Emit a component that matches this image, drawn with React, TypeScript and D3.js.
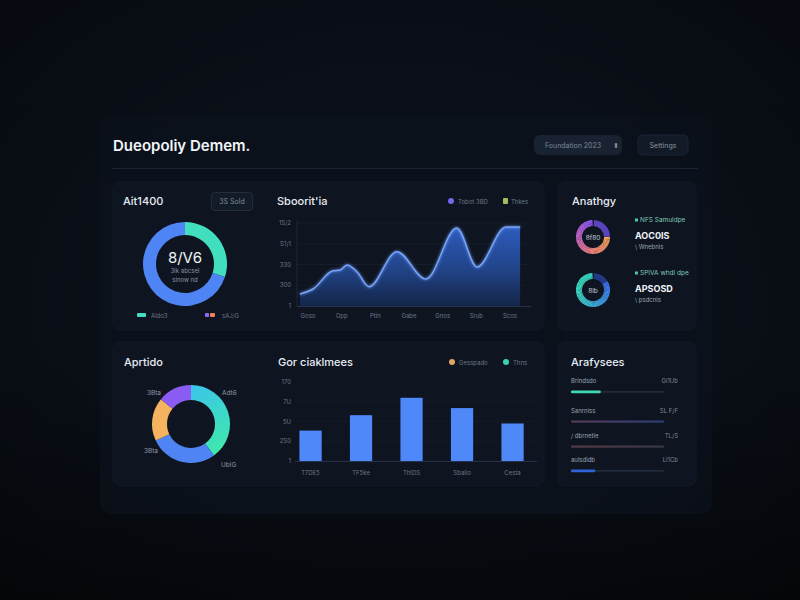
import React from "react";
import * as d3 from "d3";

const W = 800;
const H = 600;
const FONT = "Inter, 'Noto Sans', 'DejaVu Sans', sans-serif";

// ---------- data ----------
const titleText = "Dueopoliy Demem.";
const dropdownText = "Foundation 2023";
const buttonText = "Settings";

// card 1 donut
const donutATitle = "Ait1400";
const donutABadge = "3S Sold";
const donutACategories = ["Aldo3", "sAJ/G"];
const donutAValues = [30, 70];
const donutAColors = ["#41dfbf", "#4f84f4"];
const donutACenter = "8/V6";
const donutASub = ["3ik abcsel", "slnow nd"];

// line / area chart
const lineTitle = "Sboorit'ia";
const lineLegend = ["Tobot 3BD", "Thkes"];
const lineTickValues = [0, 1, 2, 3, 4];
const lineTickLabels = ["1", "300", "330", "S1/1", "1S/2"];
const lineXLabels = ["Goso", "Opp", "Ptin", "Gabe", "Gnos", "Srub", "Scos"];
const lineX = [-0.24, 0.15, 0.74, 0.95, 1.16, 1.46, 1.81, 2.64, 3.5, 4.42, 5.02, 5.88, 6.3];
const lineY = [0.58, 0.82, 1.7, 1.73, 1.98, 1.64, 0.93, 2.62, 1.3, 3.76, 1.88, 3.81, 3.81];

// mini donuts
const miniTitle = "Anathgy";
const miniValues = [75, 84];
const miniCenters = ["8f80", "8lb"];
const miniTags = ["NFS Samuldpe", "SPIVA whdl dpe"];
const miniMain = ["AOC0IS", "APSOSD"];
const miniSubs = ["\\ Wnebnis", "\\ psdcnis"];

// donut B
const donutBTitle = "Aprtido";
const donutBLabels = ["Adt6", "UbiG", "3Bta", "3Bta"];
const donutBValues = [40, 28, 18, 14];
const donutBColors = ["url(#tealGrad)", "#4f84f4", "#f6b35f", "#8b5cf4"];

// bars
const barTitle = "Gor ciaklmees";
const barLegend = ["Gesspado", "Thns"];
const barCategories = ["T7DE5", "TF5ke", "ThIDS", "Sbalio", "Cesta"];
const barValues = [77, 116, 160, 134, 95];
const barTickValues = [0, 50, 100, 150, 200];
const barTickLabels = ["1", "2S0", "5U", "7U", "170"];

// progress list
const progTitle = "Arafysees";
const progLabels = ["Brindsdo", "Sanrniss", "/ dbrnetie", "aulsdidb"];
const progRight = ["Gl1Ub", "SL F/F", "TL/S", "Li1Cb"];
const progValues = [32, 100, 100, 26];
const progColors = ["#3fd8b4", "url(#prog2)", "url(#prog3)", "#2f63d6"];

// ---------- helpers ----------
const TXT = "#e7ecf3";
const DIM = "#6b7586";

function GradientRing({ cx, cy, r0, r1, a0, a1, colors, n = 60 }: any) {
  const arc = d3.arc<any>().innerRadius(r0).outerRadius(r1);
  const interp = d3.interpolateRgbBasis(colors);
  const step = (a1 - a0) / n;
  return (
    <g transform={`translate(${cx},${cy})`}>
      {d3.range(n).map((i) => (
        <path
          key={i}
          d={arc({ startAngle: a0 + i * step, endAngle: a0 + (i + 1) * step + 0.01 }) || ""}
          fill={interp(i / (n - 1))}
        />
      ))}
    </g>
  );
}

export default function App() {
  // donut A
  const pieA = d3.pie<number>().sort(null)(donutAValues);
  const arcA = d3.arc<any>().innerRadius(29).outerRadius(42);

  // line chart
  const lx = d3.scaleLinear().domain([0, 6]).range([308, 510]);
  const ly = d3.scaleLinear().domain([0, 4]).range([306, 223]);
  const pts = lineX.map((x, i) => [x, lineY[i]] as [number, number]);
  const lineGen = d3
    .line<[number, number]>()
    .x((d) => lx(d[0]))
    .y((d) => ly(d[1]))
    .curve(d3.curveMonotoneX);
  const areaGen = d3
    .area<[number, number]>()
    .x((d) => lx(d[0]))
    .y0(ly(0))
    .y1((d) => ly(d[1]))
    .curve(d3.curveMonotoneX);

  // donut B
  const pieB = d3.pie<number>().sort(null)(donutBValues);
  const arcB = d3.arc<any>().innerRadius(24).outerRadius(39);
  const donutBLabelPos = [
    { x: 222, y: 395, a: "start" },
    { x: 221, y: 467, a: "start" },
    { x: 158, y: 453, a: "end" },
    { x: 161, y: 395, a: "end" },
  ];

  // bars
  const bx = d3.scaleBand<string>().domain(barCategories).range([285.3, 537.8]).paddingInner(0.56).paddingOuter(0.28);
  const by = d3.scaleLinear().domain([0, 200]).range([461, 382]);

  // progress
  const px = d3.scaleLinear().domain([0, 100]).range([571, 664]);
  const progY = [383, 413, 438, 462];

  // mini donuts
  const miniY = [237, 290];
  const miniColors = [
    ["#f4a45c", "#ef8070", "#c862c6", "#8a58ee"],
    ["#3e6fe6", "#3f9ee4", "#3fdcb8", "#36d6c2"],
  ];
  const miniTrack = ["#5a43bd", "#223a86"];

  return (
    <svg
      width={W}
      height={H}
      viewBox={`0 0 ${W} ${H}`}
      style={{ position: "fixed", left: 0, top: 0, display: "block" }}
      fontFamily={FONT}
    >
      <defs>
        <linearGradient id="bg" x1="0" y1="0" x2="0" y2="1">
          <stop offset="0" stopColor="#0a0f18" />
          <stop offset="0.6" stopColor="#0a0f17" />
          <stop offset="1" stopColor="#06090e" />
        </linearGradient>
        <radialGradient id="vign" cx="0.5" cy="0.5" r="0.75">
          <stop offset="0.5" stopColor="#000" stopOpacity="0" />
          <stop offset="1" stopColor="#000" stopOpacity="0.4" />
        </radialGradient>
        <linearGradient id="areaGrad" x1="0" y1="0" x2="0" y2="1">
          <stop offset="0" stopColor="#2f60c6" stopOpacity="0.95" />
          <stop offset="0.55" stopColor="#234892" stopOpacity="0.9" />
          <stop offset="1" stopColor="#152850" stopOpacity="0.85" />
        </linearGradient>
        <linearGradient id="tealGrad" x1="0" y1="0" x2="0.3" y2="1">
          <stop offset="0" stopColor="#3bc4ec" />
          <stop offset="1" stopColor="#3fe6b0" />
        </linearGradient>
        <linearGradient id="prog2" x1="0" y1="0" x2="1" y2="0">
          <stop offset="0" stopColor="#5a3a5a" />
          <stop offset="1" stopColor="#2c3d78" />
        </linearGradient>
        <linearGradient id="prog3" x1="0" y1="0" x2="1" y2="0">
          <stop offset="0" stopColor="#5a3a40" />
          <stop offset="1" stopColor="#3a3448" />
        </linearGradient>
        <filter id="glow" x="-20%" y="-20%" width="140%" height="140%">
          <feGaussianBlur stdDeviation="1.6" result="b" />
          <feMerge>
            <feMergeNode in="b" />
            <feMergeNode in="SourceGraphic" />
          </feMerge>
        </filter>
      </defs>

      <rect width={W} height={H} fill="url(#bg)" />
      <rect x={100} y={116} width={612} height={398} rx={10} fill="#0b111b" />
      <rect width={W} height={H} fill="url(#vign)" />

      {/* header */}
      <text x={113} y={151} fill="#f2f5f9" fontSize={15} fontWeight={600}>
        {titleText}
      </text>
      <rect x={534} y={135} width={88} height={20} rx={6} fill="#182231" />
      <text x={545} y={148} fill="#7c8797" fontSize={7}>
        {dropdownText}
      </text>
      <text x={613} y={148} fill="#8a95a5" fontSize={7}>
        ⬍
      </text>
      <rect x={638} y={135} width={50} height={20} rx={5} fill="#111a26" stroke="#1a2434" />
      <text x={663} y={148} fill="#8a95a5" fontSize={7} textAnchor="middle">
        {buttonText}
      </text>
      <line x1={112} x2={698} y1={168.5} y2={168.5} stroke="#1b2433" />

      {/* cards */}
      <rect x={113} y={182} width={431} height={148} rx={8} fill="#0e1521" stroke="#131b28" />
      <rect x={558} y={182} width={138} height={148} rx={8} fill="#0e1521" stroke="#131b28" />
      <rect x={113} y={342} width={431} height={144} rx={8} fill="#0e1521" stroke="#131b28" />
      <rect x={558} y={342} width={138} height={144} rx={8} fill="#0e1521" stroke="#131b28" />

      {/* ---- donut A ---- */}
      <text x={123} y={205} fill={TXT} fontSize={11} fontWeight={500}>
        {donutATitle}
      </text>
      <rect x={211.5} y={192.5} width={41} height={18} rx={3} fill="#121b28" stroke="#232d3c" />
      <text x={232} y={204} fill="#7f8a9a" fontSize={7} textAnchor="middle">
        {donutABadge}
      </text>
      <g transform="translate(185,264)">
        {pieA.map((s, i) => (
          <path key={i} d={arcA(s) || ""} fill={donutAColors[i]} />
        ))}
        <text y={-1} fill="#f2f5f9" fontSize={15} textAnchor="middle">
          {donutACenter}
        </text>
        {donutASub.map((t, i) => (
          <text key={i} y={9 + i * 9} fill="#8993a3" fontSize={6} textAnchor="middle">
            {t}
          </text>
        ))}
      </g>
      <rect x={137} y={313} width={9} height={4} rx={1} fill={donutAColors[0]} />
      <text x={151} y={318} fill={DIM} fontSize={6}>
        {donutACategories[0]}
      </text>
      <rect x={205} y={313} width={4} height={4} rx={1} fill="#8b6cf0" />
      <rect x={210} y={313} width={5} height={4} rx={1} fill="#f07f5c" />
      <text x={222} y={318} fill={DIM} fontSize={6}>
        {donutACategories[1]}
      </text>

      {/* ---- line chart ---- */}
      <text x={277} y={205} fill={TXT} fontSize={11} fontWeight={500}>
        {lineTitle}
      </text>
      <circle cx={451} cy={201} r={3} fill="#7766ee" />
      <text x={458} y={203.5} fill={DIM} fontSize={6}>
        {lineLegend[0]}
      </text>
      <rect x={503} y={198} width={5} height={6} rx={1} fill="#9fbf5e" />
      <text x={511} y={203.5} fill={DIM} fontSize={6}>
        {lineLegend[1]}
      </text>
      {lineTickValues.map((v, i) => (
        <g key={i}>
          {v > 0 && (
            <line x1={297} x2={527} y1={ly(v)} y2={ly(v)} stroke="#162030" strokeWidth={0.8} />
          )}
          <text x={291} y={ly(v) + 2} fill={DIM} fontSize={6} textAnchor="end">
            {lineTickLabels[i]}
          </text>
        </g>
      ))}
      <line x1={297} x2={297} y1={221} y2={306} stroke="#1d2738" />
      <path d={areaGen(pts) || ""} fill="url(#areaGrad)" />
      <path d={lineGen(pts) || ""} fill="none" stroke="#76a3fb" strokeWidth={1.5} filter="url(#glow)" />
      <line x1={297} x2={531} y1={306.5} y2={306.5} stroke="#27324a" />
      {lineXLabels.map((t, i) => (
        <text key={i} x={lx(i)} y={318} fill={DIM} fontSize={6} textAnchor="middle">
          {t}
        </text>
      ))}

      {/* ---- mini donuts ---- */}
      <text x={572} y={205} fill={TXT} fontSize={11} fontWeight={500}>
        {miniTitle}
      </text>
      {miniValues.map((v, i) => {
        const a0 = (1 - v / 100) * 2 * Math.PI;
        const trackArc = d3.arc<any>().innerRadius(11).outerRadius(17)({
          startAngle: 0.06,
          endAngle: a0 - 0.02,
        });
        return (
          <g key={i}>
            <path d={trackArc || ""} transform={`translate(593,${miniY[i]})`} fill={miniTrack[i]} />
            <GradientRing cx={593} cy={miniY[i]} r0={11} r1={17} a0={a0} a1={2 * Math.PI - 0.04} colors={miniColors[i]} />
            <text x={593} y={miniY[i] + 2.5} fill="#c7cfdb" fontSize={6.5} textAnchor="middle">
              {miniCenters[i]}
            </text>
            <rect x={635} y={miniY[i] - 18.5} width={3} height={3} fill="#46c9a8" />
            <text x={640} y={miniY[i] - 15} fill="#7fc9b6" fontSize={6.5}>
              {miniTags[i]}
            </text>
            <text x={635} y={miniY[i] + 2} fill="#f0f3f7" fontSize={9} fontWeight={700}>
              {miniMain[i]}
            </text>
            <text x={635} y={miniY[i] + 12} fill="#9aa4b3" fontSize={6}>
              {miniSubs[i]}
            </text>
          </g>
        );
      })}

      {/* ---- donut B ---- */}
      <text x={124} y={366} fill={TXT} fontSize={11} fontWeight={500}>
        {donutBTitle}
      </text>
      <g transform="translate(191,424)">
        {pieB.map((s, i) => (
          <path key={i} d={arcB(s) || ""} fill={donutBColors[i]} />
        ))}
      </g>
      {donutBLabels.map((t, i) => (
        <text
          key={i}
          x={donutBLabelPos[i].x}
          y={donutBLabelPos[i].y}
          fill="#8e98a7"
          fontSize={6.5}
          textAnchor={donutBLabelPos[i].a as any}
        >
          {t}
        </text>
      ))}

      {/* ---- bars ---- */}
      <text x={278} y={366} fill={TXT} fontSize={11} fontWeight={500}>
        {barTitle}
      </text>
      <circle cx={452} cy={362} r={3} fill="#e0a466" />
      <text x={459} y={364.5} fill={DIM} fontSize={6}>
        {barLegend[0]}
      </text>
      <circle cx={506} cy={362} r={3} fill="#3fd0b4" />
      <text x={513} y={364.5} fill={DIM} fontSize={6}>
        {barLegend[1]}
      </text>
      {barTickValues.map((v, i) => (
        <g key={i}>
          {v > 0 && (
            <line
              x1={297}
              x2={537}
              y1={by(v)}
              y2={by(v)}
              stroke="#172132"
              strokeWidth={0.8}
              strokeDasharray="2 2"
            />
          )}
          <text x={291} y={by(v) + 2} fill={DIM} fontSize={6} textAnchor="end">
            {barTickLabels[i]}
          </text>
        </g>
      ))}
      {barCategories.map((c, i) => (
        <rect
          key={c}
          x={bx(c)}
          y={by(barValues[i])}
          width={bx.bandwidth()}
          height={by(0) - by(barValues[i])}
          fill="#4f88f8"
        />
      ))}
      <line x1={295} x2={537} y1={461.5} y2={461.5} stroke="#27324a" />
      {barCategories.map((c) => (
        <text key={c} x={(bx(c) || 0) + bx.bandwidth() / 2} y={475} fill={DIM} fontSize={6} textAnchor="middle">
          {c}
        </text>
      ))}

      {/* ---- progress ---- */}
      <text x={571} y={366} fill={TXT} fontSize={11} fontWeight={500}>
        {progTitle}
      </text>
      {progLabels.map((t, i) => (
        <g key={i}>
          <text x={571} y={progY[i]} fill="#9aa4b3" fontSize={6}>
            {t}
          </text>
          <text x={678} y={progY[i]} fill="#7d8797" fontSize={6} textAnchor="end">
            {progRight[i]}
          </text>
          <rect x={px(0)} y={progY[i] + 8} width={px(100) - px(0)} height={1.8} rx={0.9} fill="#1f2a3c" />
          <rect
            x={px(0)}
            y={progY[i] + 7.6}
            width={px(progValues[i]) - px(0)}
            height={i === 0 || i === 3 ? 2.6 : 1.8}
            rx={1}
            fill={progColors[i]}
          />
        </g>
      ))}
    </svg>
  );
}
